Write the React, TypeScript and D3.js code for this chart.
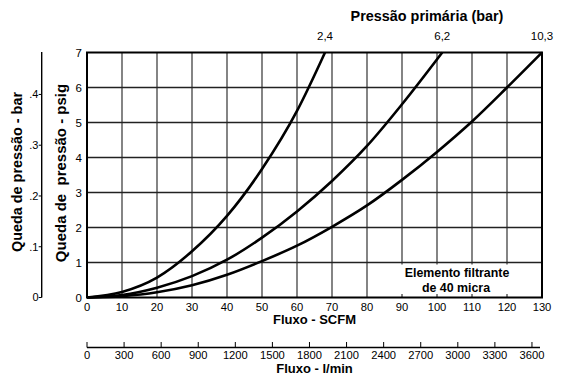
import React from "react";
import * as d3 from "d3";

// Flow (SCFM) samples and pressure drop (psig) for each inlet pressure curve
const curveLabels = ["2,4", "6,2", "10,3"];
const flow24 = [0, 10, 20, 30, 40, 50, 60, 68];
const drop24 = [0, 0.16, 0.57, 1.32, 2.33, 3.67, 5.33, 7.0];
const flow62 = [0, 10, 20, 30, 40, 50, 60, 70, 80, 90, 101.5];
const drop62 = [0, 0.07, 0.28, 0.61, 1.08, 1.71, 2.46, 3.33, 4.33, 5.52, 7.0];
const flow103 = [0, 10, 20, 30, 40, 50, 60, 70, 80, 90, 100, 110, 120, 130];
const drop103 = [0, 0.04, 0.15, 0.35, 0.65, 1.04, 1.48, 2.02, 2.63, 3.36, 4.16, 5.03, 6.0, 7.0];

const scfmTicks = [0, 10, 20, 30, 40, 50, 60, 70, 80, 90, 100, 110, 120, 130];
const psigTicks = [0, 1, 2, 3, 4, 5, 6, 7];
const barTicks = [0, 0.1, 0.2, 0.3, 0.4];
const barTickLabels = ["0", ".1", ".2", ".3", ".4"];
const lpmTicks = [0, 300, 600, 900, 1200, 1500, 1800, 2100, 2400, 2700, 3000, 3300, 3600];

const PSI_PER_BAR = 14.5038;
const LPM_PER_SCFM = 28.317;

const FONT = "'Liberation Sans', Arial, Helvetica, sans-serif";

export default function App() {
  const x = d3.scaleLinear().domain([0, 130]).range([87, 542]);
  const y = d3.scaleLinear().domain([0, 7]).range([297.5, 52.5]);
  const xl = (lpm: number) => x(lpm / LPM_PER_SCFM);

  const curves = [
    { f: flow24, p: drop24 },
    { f: flow62, p: drop62 },
    { f: flow103, p: drop103 },
  ];
  const line = d3
    .line<[number, number]>()
    .x((d) => x(d[0]))
    .y((d) => y(d[1]))
    .curve(d3.curveMonotoneX);

  const barAxisX = 41.7;
  const lpmAxisY = 347.5;

  return (
    <svg
      width={561}
      height={375}
      viewBox="0 0 561 375"
      style={{ position: "absolute", left: 0, top: 0, background: "#fff" }}
      fontFamily={FONT}
    >
      <rect x={0} y={0} width={561} height={375} fill="#fff" />
      {/* grid */}
      {scfmTicks.slice(1, -1).map((t) => (
        <line key={"v" + t} x1={x(t)} x2={x(t)} y1={y(7)} y2={y(0)} stroke="#666" strokeWidth={1.6} />
      ))}
      {psigTicks.slice(1, -1).map((t) => (
        <line key={"h" + t} x1={x(0)} x2={x(130)} y1={y(t)} y2={y(t)} stroke="#222" strokeWidth={1.3} />
      ))}
      {/* note box */}
      <rect x={388} y={264.5} width={152.5} height={29.5} fill="#fff" />
      <text x={457} y={277.3} textAnchor="middle" fontSize={12.4} fontWeight="bold">
        Elemento filtrante
      </text>
      <text x={456} y={291.5} textAnchor="middle" fontSize={12.4} fontWeight="bold">
        de 40 micra
      </text>
      {/* curves */}
      {curves.map((c, i) => (
        <path
          key={"c" + i}
          d={line(c.f.map((f, j) => [f, c.p[j]] as [number, number])) || ""}
          fill="none"
          stroke="#000"
          strokeWidth={2.6}
        />
      ))}
      {/* border */}
      <rect x={x(0)} y={y(7)} width={x(130) - x(0)} height={y(0) - y(7)} fill="none" stroke="#000" strokeWidth={2} />

      {/* psig labels */}
      {psigTicks.map((t) => (
        <text key={"pl" + t} x={82} y={y(t)} dy="0.36em" textAnchor="end" fontSize={11.5}>
          {t}
        </text>
      ))}
      {/* scfm labels */}
      {scfmTicks.map((t) => (
        <text key={"sl" + t} x={x(t)} y={311} textAnchor="middle" fontSize={11.2}>
          {t}
        </text>
      ))}
      <text x={314.5} y={324} textAnchor="middle" fontSize={13} fontWeight="bold">
        Fluxo - SCFM
      </text>

      {/* top labels */}
      <text x={427} y={21} textAnchor="middle" fontSize={14.4} fontWeight="bold">
        Pressão primária (bar)
      </text>
      {curves.map((c, i) => (
        <text key={"tl" + i} x={x(c.f[c.f.length - 1])} y={40} textAnchor="middle" fontSize={11.5}>
          {curveLabels[i]}
        </text>
      ))}

      {/* bar axis */}
      <line x1={barAxisX} x2={barAxisX} y1={52} y2={y(0)} stroke="#000" strokeWidth={1.4} />
      {barTicks.map((b, i) => (
        <g key={"b" + i}>
          <line x1={barAxisX - 3} x2={barAxisX} y1={y(b * PSI_PER_BAR)} y2={y(b * PSI_PER_BAR)} stroke="#000" strokeWidth={1} />
          <text x={38.5} y={y(b * PSI_PER_BAR)} dy="0.36em" textAnchor="end" fontSize={11}>
            {barTickLabels[i]}
          </text>
        </g>
      ))}
      <text
        transform={`translate(22,172) rotate(-90)`}
        textAnchor="middle"
        fontSize={14.4}
        fontWeight="bold"
      >
        Queda de pressão - bar
      </text>
      <text
        transform={`translate(66,173) rotate(-90)`}
        textAnchor="middle"
        fontSize={15}
        fontWeight="bold"
        style={{ whiteSpace: "pre" }}
      >
        {"Queda de  pressão - psig"}
      </text>

      {/* l/min axis */}
      <line x1={xl(0)} x2={540} y1={lpmAxisY} y2={lpmAxisY} stroke="#000" strokeWidth={1.4} />
      {lpmTicks.map((t) => (
        <g key={"l" + t}>
          <line x1={xl(t)} x2={xl(t)} y1={lpmAxisY - 5.5} y2={lpmAxisY} stroke="#000" strokeWidth={1} />
          <text x={xl(t)} y={359} textAnchor="middle" fontSize={11.2}>
            {t}
          </text>
        </g>
      ))}
      <text x={314.5} y={372.5} textAnchor="middle" fontSize={13} fontWeight="bold">
        Fluxo - l/min
      </text>
    </svg>
  );
}
